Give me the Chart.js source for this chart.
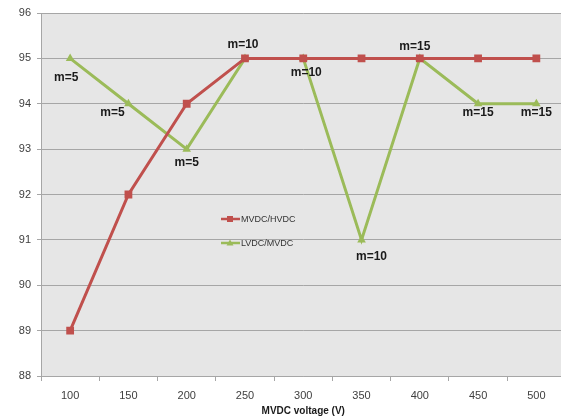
<!DOCTYPE html>
<html><head><meta charset="utf-8">
<script src="https://cdn.jsdelivr.net/npm/chart.js@4/dist/chart.umd.min.js"></script>
<style>html,body{margin:0;padding:0;overflow:hidden;background:#fff;width:561px;height:419px}</style>
</head><body>
<canvas id="c" width="571" height="419"></canvas>
<script>
const categories = ['100','150','200','250','300','350','400','450','500'];
const mvdcHvdc = [89, 92, 94, 95, 95, 95, 95, 95, 95];
const lvdcMvdc = [95, 94, 93, 95, 95, 91, 95, 94, 94];
const lvdcLabels = ['m=5','m=5','m=5','m=10','m=10','m=10','m=15','m=15','m=15'];
const yTicks = [88, 89, 90, 91, 92, 93, 94, 95, 96];

const RED = '#c0504d', GREEN = '#9bbb59';
const labelOffsets = [[-4,19],[-16,9],[0,14],[-2,-14],[3,14],[10,17],[-5,-12],[0,9],[0,9]];

const bgPlugin = {
  id: 'bg',
  beforeDraw(chart) {
    const {ctx, chartArea: a} = chart;
    ctx.save();
    ctx.fillStyle = '#e6e6e6';
    ctx.fillRect(a.left, a.top, a.right - a.left, a.bottom - a.top);
    ctx.restore();
  }
};
const labelPlugin = {
  id: 'labels',
  afterDatasetsDraw(chart) {
    const ctx = chart.ctx;
    const meta = chart.getDatasetMeta(1);
    ctx.save();
    ctx.font = 'bold 12px "Liberation Sans", Arial, sans-serif';
    ctx.fillStyle = '#1a1a1a';
    ctx.textAlign = 'center';
    ctx.textBaseline = 'middle';
    meta.data.forEach((pt, i) => {
      const o = labelOffsets[i];
      ctx.fillText(lvdcLabels[i], pt.x + o[0], pt.y + o[1]);
    });
    // legend
    const items = [
      {text: 'MVDC/HVDC', color: RED, style: 'rect', y: 219},
      {text: 'LVDC/MVDC', color: GREEN, style: 'triangle', y: 243}
    ];
    ctx.font = '9px "Liberation Sans", Arial, sans-serif';
    ctx.textAlign = 'left';
    items.forEach(it => {
      ctx.strokeStyle = it.color; ctx.lineWidth = 2.5;
      ctx.beginPath(); ctx.moveTo(221, it.y); ctx.lineTo(240, it.y); ctx.stroke();
      ctx.fillStyle = it.color;
      if (it.style === 'rect') ctx.fillRect(227, it.y - 3, 6, 6);
      else { ctx.beginPath(); ctx.moveTo(230, it.y - 3.5); ctx.lineTo(233.5, it.y + 2.5); ctx.lineTo(226.5, it.y + 2.5); ctx.closePath(); ctx.fill(); }
      ctx.fillStyle = '#333';
      ctx.fillText(it.text, 241, it.y + 0.5);
    });
    ctx.restore();
  }
};

new Chart(document.getElementById('c'), {
  type: 'line',
  data: {
    labels: categories,
    datasets: [
      {label: 'MVDC/HVDC', data: mvdcHvdc, borderColor: RED, backgroundColor: RED, borderWidth: 3,
       pointStyle: 'rect', pointRadius: 5.5, pointBorderWidth: 0, tension: 0},
      {label: 'LVDC/MVDC', data: lvdcMvdc, borderColor: GREEN, backgroundColor: GREEN, borderWidth: 3,
       pointStyle: 'triangle', pointRadius: 5, pointBorderWidth: 0, tension: 0}
    ]
  },
  options: {
    responsive: false,
    animation: false,
    layout: {padding: {top: 13, right: 0, left: 0, bottom: 0}},
    plugins: {legend: {display: false}, tooltip: {enabled: false}},
    scales: {
      x: {
        offset: true,
        grid: {display: true, drawOnChartArea: false, offset: true, color: '#a6a6a6', tickLength: 5},
        border: {color: '#a6a6a6'},
        ticks: {color: '#404040', font: {size: 11, family: '"Liberation Sans", Arial, sans-serif'}, padding: 8, maxRotation: 0, autoSkip: false},
        title: {display: true, text: 'MVDC voltage (V)', color: '#1a1a1a',
                font: {size: 10, weight: 'bold', family: '"Liberation Sans", Arial, sans-serif'}, padding: {top: 2, bottom: 2}},
        afterFit(s) { s.height = 43; }
      },
      y: {
        min: 88, max: 96,
        afterBuildTicks(s) { s.ticks = yTicks.map(v => ({value: v})); },
        grid: {color: '#a6a6a6', tickLength: 4},
        border: {color: '#a6a6a6'},
        ticks: {color: '#404040', font: {size: 11, family: '"Liberation Sans", Arial, sans-serif'}, padding: 6},
        afterFit(s) { s.width = 41; }
      }
    }
  },
  plugins: [bgPlugin, labelPlugin]
});
</script>
</body></html>
